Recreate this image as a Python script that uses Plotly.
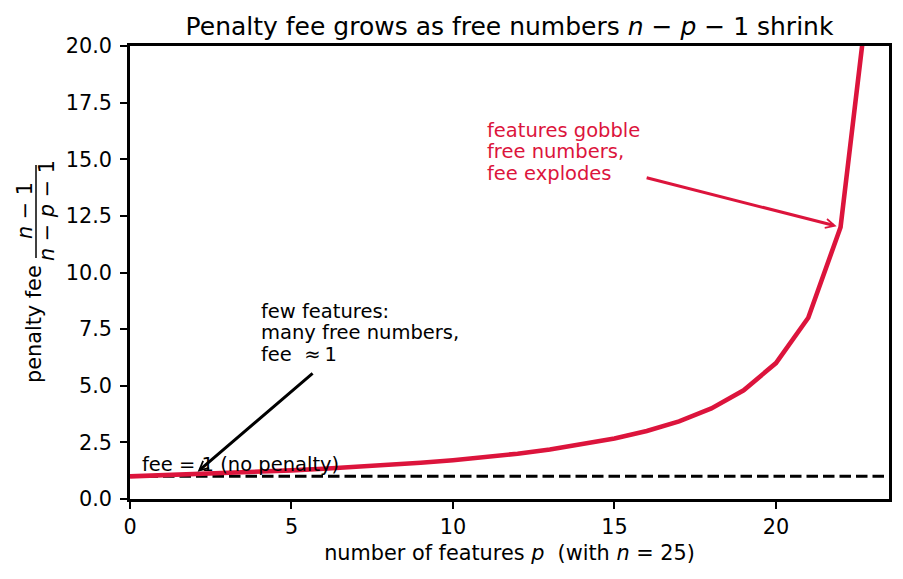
import plotly.graph_objects as go

# ---- data ----
n_samples = 25
p_features = list(range(0, 24))
penalty_fee = [1.0, 1.0435, 1.0909, 1.1429, 1.2, 1.2632, 1.3333, 1.4118, 1.5, 1.6,
               1.7143, 1.8462, 2.0, 2.1818, 2.4, 2.6667, 3.0, 3.4286, 4.0, 4.8,
               6.0, 8.0, 12.0, 24.0]
baseline_fee = 1.0
x_range = [0, 23.5]
y_range = [0, 20]
x_ticks = [0, 5, 10, 15, 20]
y_ticks = [0.0, 2.5, 5.0, 7.5, 10.0, 12.5, 15.0, 17.5, 20.0]
black_note_lines = ["few features:", "many free numbers,", "fee \u00a0\u2248\u20091"]
red_note_lines = ["features gobble", "free numbers,", "fee explodes"]

CRIMSON = "#DC143C"
FONT = "DejaVu Sans"
W, H = 903, 579
L, R, T, B = 130, 14, 46, 80
LINE_STEP = 21.7
NOTE_SIZE = 19.5


def px_x(px):
    return (px - L) / (W - L - R)


def px_y(py):
    return (H - B - py) / (H - T - B)


fig = go.Figure()
fig.add_trace(go.Scatter(
    x=[x_range[0], x_range[1]], y=[baseline_fee, baseline_fee], mode="lines",
    line=dict(color="black", width=3, dash="11.5px,5px"), showlegend=False,
    hoverinfo="skip"))
fig.add_trace(go.Scatter(
    x=p_features, y=penalty_fee, mode="lines",
    line=dict(color=CRIMSON, width=4.6), showlegend=False))

annotations = []


def add_lines(lines, x, y, color):
    nlines = len(lines)
    for i, txt in enumerate(lines):
        annotations.append(dict(
            x=x, y=y, xref="x", yref="y", xanchor="left", yanchor="bottom",
            yshift=-5 + (nlines - 1 - i) * LINE_STEP, text=txt, showarrow=False,
            align="left", font=dict(family=FONT, size=NOTE_SIZE, color=color)))


# black arrow annotation
annotations.append(dict(
    x=p_features[2], y=penalty_fee[2], ax=5.7, ay=5.6, axref="x", ayref="y",
    xref="x", yref="y", text="", showarrow=True, arrowhead=5, arrowsize=0.6,
    arrowwidth=3, arrowcolor="black", standoff=4))
add_lines(black_note_lines, 4, 6, "black")
# red arrow annotation
annotations.append(dict(
    x=p_features[22], y=penalty_fee[22], ax=15.95, ay=14.2, axref="x", ayref="y",
    xref="x", yref="y", text="", showarrow=True, arrowhead=5, arrowsize=0.6,
    arrowwidth=3, arrowcolor=CRIMSON, standoff=4))
add_lines(red_note_lines, 11, 14, CRIMSON)
# baseline label
annotations.append(dict(
    x=0.3, y=1.15, xref="x", yref="y", xanchor="left", yanchor="bottom", yshift=-5,
    text="fee = 1 (no penalty)", showarrow=False,
    font=dict(family=FONT, size=NOTE_SIZE, color="black")))
# y-axis label with fraction
annotations.append(dict(
    x=px_x(34), y=px_y(324), xref="paper", yref="paper", textangle=-90,
    xanchor="center", yanchor="middle", text="penalty fee", showarrow=False,
    font=dict(family=FONT, size=20.8, color="black")))
annotations.append(dict(
    x=px_x(25), y=px_y(211), xref="paper", yref="paper", textangle=-90,
    xanchor="center", yanchor="middle", text="<i>n</i> \u2212 1", showarrow=False,
    font=dict(family=FONT, size=20.8, color="black")))
annotations.append(dict(
    x=px_x(47), y=px_y(211), xref="paper", yref="paper", textangle=-90,
    xanchor="center", yanchor="middle", text="<i>n</i> \u2212 <i>p</i> \u2212 1",
    showarrow=False, font=dict(family=FONT, size=20.8, color="black")))

shapes = [dict(type="line", xref="paper", yref="paper",
               x0=px_x(36), x1=px_x(36), y0=px_y(165), y1=px_y(258),
               line=dict(color="black", width=1.5))]

fig.update_layout(
    width=W, height=H,
    margin=dict(l=L, r=R, t=T, b=B),
    paper_bgcolor="white", plot_bgcolor="white",
    font=dict(family=FONT, size=20.8, color="black"),
    title=dict(text="Penalty fee grows as free numbers <i>n</i> \u2212 <i>p</i> \u2212 1 shrink",
               x=px_x((L + W - R) / 2), xref="paper", xanchor="center",
               y=1 - 26 / H, yref="container", yanchor="middle",
               font=dict(family=FONT, size=25, color="black")),
    xaxis=dict(range=x_range, tickvals=x_ticks, showgrid=False, zeroline=False,
               showline=True, linecolor="black", linewidth=2.5, mirror=True,
               ticks="outside", ticklen=7, tickwidth=1.7, tickcolor="black",
               tickfont=dict(family=FONT, size=20.8),
               title=dict(text="number of features <i>p</i> \u00a0(with <i>n</i> = 25)",
                          standoff=8, font=dict(family=FONT, size=20.8))),
    yaxis=dict(range=y_range, tickvals=y_ticks, tickformat=".1f", showgrid=False,
               zeroline=False, showline=True, linecolor="black", linewidth=2.5,
               mirror=True, ticks="outside", ticklen=7, tickwidth=1.7,
               tickcolor="black", ticklabelstandoff=4,
               tickfont=dict(family=FONT, size=20.8)),
    annotations=annotations,
    shapes=shapes,
)

fig.write_html("out.html")
